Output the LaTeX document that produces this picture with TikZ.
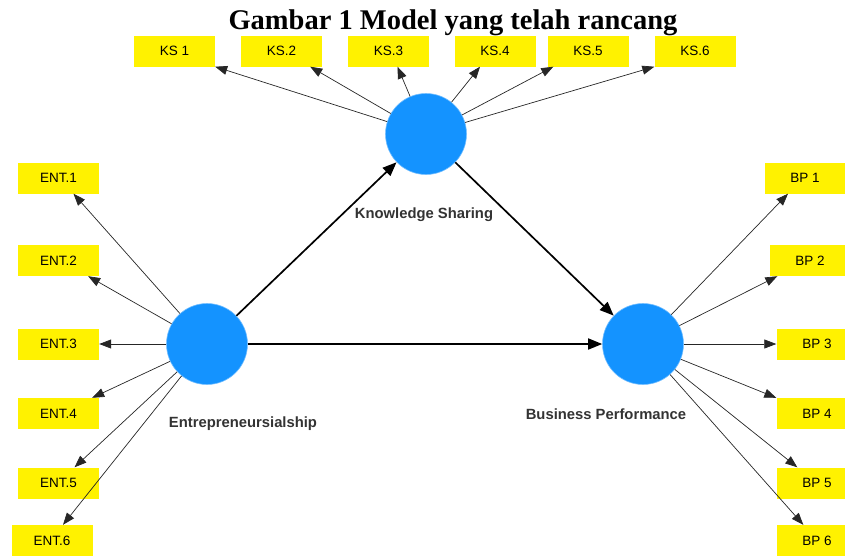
\documentclass[tikz,border=0pt]{standalone}
\usepackage{fontspec}
\setmainfont{Liberation Serif}
\setsansfont{Liberation Sans}
\usetikzlibrary{arrows.meta}
\definecolor{lvblue}{HTML}{1493FF}
\definecolor{lvtext}{HTML}{333333}
\begin{document}
\begin{tikzpicture}[x=1pt,y=-1pt,
        latent/.style={circle, fill=lvblue, draw=lvblue!60!white, line width=0.6pt, minimum size=81pt, inner sep=0pt},
        indicator/.style={fill=yellow, minimum width=81pt, minimum height=31pt, inner sep=0pt, font=\sffamily\fontsize{13.5}{15}\selectfont},
        varname/.style={font=\sffamily\bfseries\fontsize{14.8}{17}\selectfont, text=lvtext},
        loading/.style={-{Triangle[length=12pt,width=9pt]}, draw=black!85, line width=0.7pt},
        structural/.style={-{Triangle[length=14pt,width=11pt]}, line width=1.7pt}]

            \useasboundingbox (0,0) rectangle (845,555);
            \clip (0,0) rectangle (845,555);

            % title
            \node[anchor=base, font=\bfseries\fontsize{28.5}{32}\selectfont] (title) at (453,29) {Gambar 1 Model yang telah rancang};

            % latent variables
            \node[latent] (ks) at (426,134) {};
            \node[latent] (ent) at (207,344) {};
            \node[latent] (bp) at (643,344) {};

            \node[varname] (kslabel) at (424,215) {Knowledge Sharing};
            \node[varname] (entlabel) at (243,424) {Entrepreneursialship};
            \node[varname] (bplabel) at (606,414) {Business Performance};

            % indicators
            \node[indicator] (ks1) at (174.5,51) {KS 1};
            \node[indicator] (ks2) at (281.5,51) {KS.2};
            \node[indicator] (ks3) at (388.5,51) {KS.3};
            \node[indicator] (ks4) at (495,51) {KS.4};
            \node[indicator] (ks5) at (588,51) {KS.5};
            \node[indicator] (ks6) at (695,51) {KS.6};

            \node[indicator] (ent1) at (58.5,178) {ENT.1};
            \node[indicator] (ent2) at (58.5,260.5) {ENT.2};
            \node[indicator] (ent3) at (58.5,344) {ENT.3};
            \node[indicator] (ent4) at (58.5,413.5) {ENT.4};
            \node[indicator] (ent5) at (58.5,483) {ENT.5};
            \node[indicator] (ent6) at (52,540.5) {ENT.6};

            \node[indicator] (bp1) at (805,178) {BP 1};
            \node[indicator] (bp2) at (810,260.5) {BP 2};
            \node[indicator] (bp3) at (817,344) {BP 3};
            \node[indicator] (bp4) at (817,413.5) {BP 4};
            \node[indicator] (bp5) at (817,483) {BP 5};
            \node[indicator] (bp6) at (817,540.5) {BP 6};

            % outer loadings
            \draw[loading] (ks) -- (ks1.south east);
            \draw[loading] (ks) -- ([xshift=-12pt]ks2.south east);
            \draw[loading] (ks) -- ([xshift=9pt]ks3.south);
            \draw[loading] (ks) -- ([xshift=-15pt]ks4.south);
            \draw[loading] (ks) -- ([xshift=6pt]ks5.south west);
            \draw[loading] (ks) -- (ks6.south west);

            \draw[loading] (ent) -- ([xshift=15pt]ent1.south);
            \draw[loading] (ent) -- ([xshift=-11pt]ent2.south east);
            \draw[loading] (ent) -- (ent3.east);
            \draw[loading] (ent) -- ([xshift=-7pt]ent4.north east);
            \draw[loading] (ent) -- ([xshift=16pt]ent5.north);
            \draw[loading] (ent) -- ([xshift=11pt]ent6.north);

            \draw[loading] (bp) -- ([xshift=-17pt]bp1.south);
            \draw[loading] (bp) -- ([xshift=8pt]bp2.south west);
            \draw[loading] (bp) -- (bp3.west);
            \draw[loading] (bp) -- (bp4.north west);
            \draw[loading] (bp) -- ([xshift=21pt]bp5.north west);
            \draw[loading] (bp) -- ([xshift=27pt]bp6.north west);

            % inner model
            \draw[structural] (ent) -- (ks);
            \draw[structural] (ks) -- (bp);
            \draw[structural] (ent) -- (bp);
        \end{tikzpicture}
\end{document}
